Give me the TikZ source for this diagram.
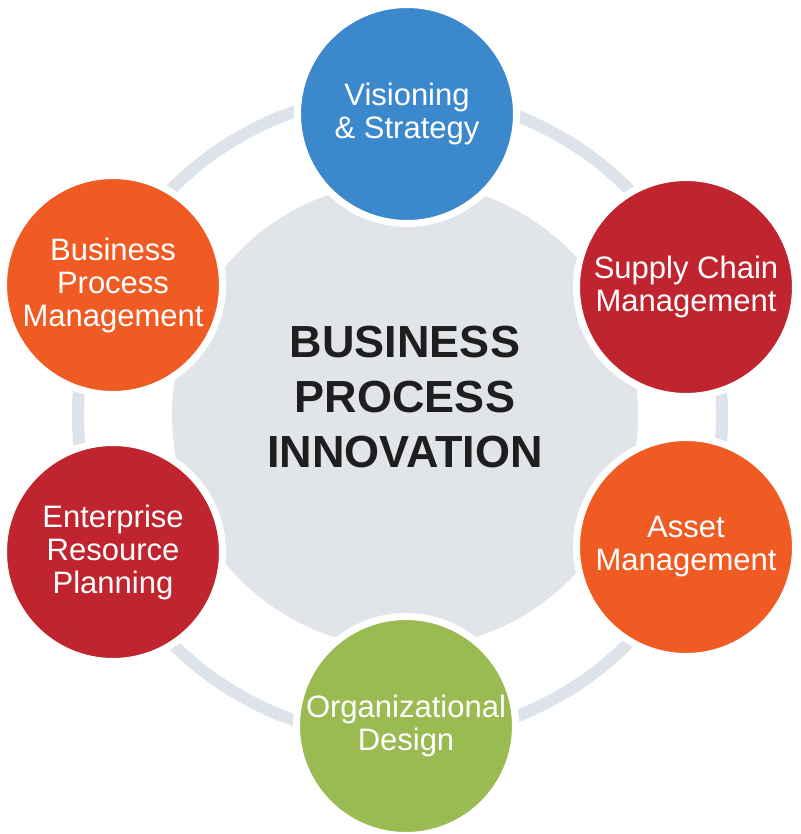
\documentclass[tikz,border=0pt]{standalone}
\usepackage{fontspec}
\setmainfont{Liberation Sans}
\definecolor{ringgray}{HTML}{DCE3EA}
\definecolor{hubgray}{HTML}{E1E5EA}
\definecolor{blueball}{HTML}{3B88CD}
\definecolor{redball}{HTML}{C0242F}
\definecolor{orangeball}{HTML}{F05A23}
\definecolor{greenball}{HTML}{9ABB52}
\definecolor{hubtext}{HTML}{1E1E1E}

\begin{document}
\begin{tikzpicture}[x=1pt,y=-1pt,
main node/.style={circle,draw=white,line width=7pt,minimum size=219pt,inner sep=0pt,
  align=center,text=white,font=\fontsize{31}{33}\selectfont}]
\useasboundingbox (0,0) rectangle (800,834);

% Outer ring and hub
  \coordinate (ringc) at (400,416);
  \draw[ringgray,line width=12pt] (ringc) circle (322);
  \node (hub) at (405,415) [circle,fill=hubgray,minimum size=466pt,inner sep=0pt] {};
  \node (title) at (405,397) [align=center,text=hubtext,
    font=\fontsize{45}{55}\selectfont\bfseries] {BUSINESS\\PROCESS\\INNOVATION};

% Six circles round the hub
  \node[main node,fill=blueball] (vision) at (407,114) {Visioning\\\& Strategy};
  \node[main node,fill=redball] (supply) at (686,287) {Supply Chain\\Management};
  \node[main node,fill=orangeball] (asset) at (686,547) {Asset\\Management};
  \node[main node,fill=greenball] (design) at (406,726) {Organizational\\Design};
  \node[main node,fill=redball] (erp) at (113,552) {Enterprise\\Resource\\Planning};
  \node[main node,fill=orangeball] (bpm) at (113,285) {Business\\Process\\Management};

\end{tikzpicture}
\end{document}
